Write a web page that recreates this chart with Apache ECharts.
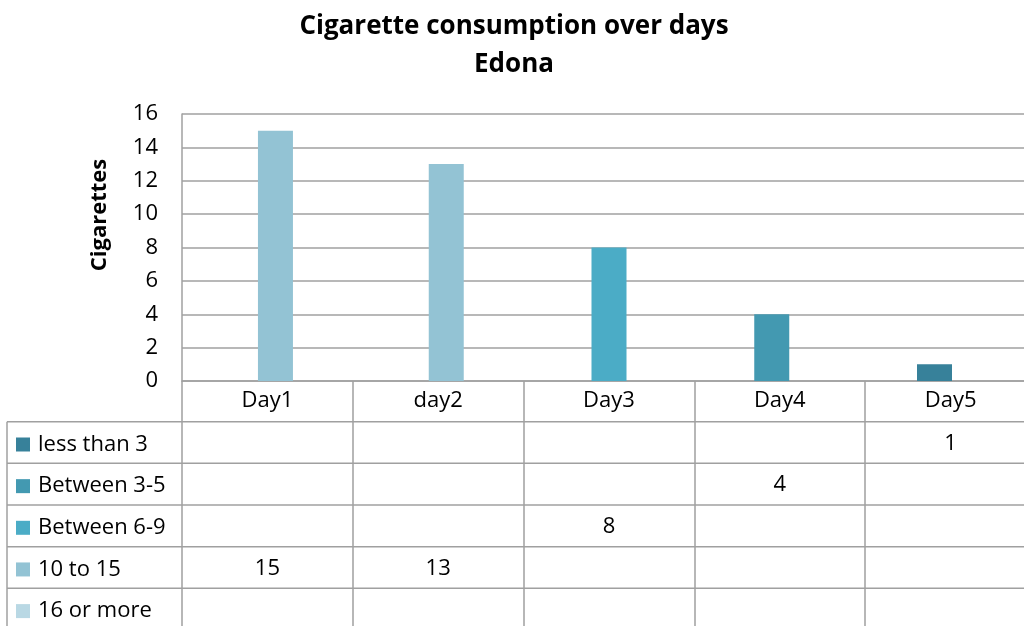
<!DOCTYPE html>
<html>
<head>
<meta charset="utf-8">
<script src="https://cdn.jsdelivr.net/npm/echarts@6/dist/echarts.min.js"></script>
<style>
  html, body { margin: 0; padding: 0; background: #fff; overflow: hidden; width: 1024px; height: 626px; }
  /* the table's last column runs past the right edge of the page */
  #chart { width: 1036px; height: 626px; }
</style>
</head>
<body>
<div id="chart"></div>
<script>
// Days on the category axis
const days = ['Day1', 'day2', 'Day3', 'Day4', 'Day5'];

// Cigarettes per day, grouped by consumption band (null = no value that day)
const lessThan3   = [null, null, null, null, 1];
const between3to5 = [null, null, null, 4, null];
const between6to9 = [null, null, 8, null, null];
const tenTo15     = [15, 13, null, null, null];
const sixteenPlus = [null, null, null, null, null];

const seriesNames  = ['less than 3', 'Between 3-5', 'Between 6-9', '10 to 15', '16 or more'];
const seriesValues = [lessThan3, between3to5, between6to9, tenTo15, sixteenPlus];
const seriesColors = ['#37819a', '#4399b1', '#4bacc6', '#93c3d4', '#b9d8e4'];

// Value axis ticks
const yMin = 0, yMax = 16, yStep = 2;

const FONT = 'Open Sans';
const LINE = '#a0a0a0';
const HEADER_H = 40.7;   // height of the day-label row under the axis
const ROW_H = 41.65;     // height of each data-table row

const chart = echarts.init(document.getElementById('chart'));

// cells of the data table: [dayIndex, rowIndex, value]
const tableCells = [];
seriesValues.forEach((vals, r) => {
  vals.forEach((v, c) => { if (v != null) tableCells.push([c, r, v]); });
});
// horizontal rule indices of the data table
const ruleRows = [];
for (let i = 0; i <= seriesNames.length; i++) ruleRows.push(i);

const barSeries = seriesNames.map((name, i) => ({
  name: name,
  type: 'bar',
  data: seriesValues[i],
  barWidth: 35,
  barGap: '-77%',
  itemStyle: { color: seriesColors[i] },
  z: 3
}));

chart.setOption({
  animation: false,
  textStyle: { fontFamily: FONT },
  title: {
    text: 'Cigarette consumption over days\nEdona',
    left: 509,
    top: 3,
    textAlign: 'center',
    textStyle: { fontFamily: FONT, fontWeight: 'bold', fontSize: 26, lineHeight: 38, color: '#000' }
  },
  legend: {
    type: 'plain',
    orient: 'vertical',
    left: 11,
    top: 427.5,
    height: 300,
    icon: 'rect',
    itemWidth: 14,
    itemHeight: 14,
    itemGap: 17.65,
    data: seriesNames,
    selectedMode: false,
    textStyle: { fontFamily: FONT, fontSize: 22, color: '#000', lineHeight: 24, padding: [0, 0, 0, 3] }
  },
  grid: { left: 182, right: 0, top: 114, bottom: 245, containLabel: false },
  xAxis: {
    type: 'category',
    data: days,
    boundaryGap: true,
    axisLine: { show: true, lineStyle: { color: LINE, width: 1.5 } },
    axisTick: { show: true, length: 260, lineStyle: { color: LINE, width: 1.5 } },
    axisLabel: { fontFamily: FONT, fontSize: 22, color: '#000', margin: 8, lineHeight: 24 },
    splitLine: { show: false }
  },
  yAxis: {
    type: 'value',
    min: yMin,
    max: yMax,
    interval: yStep,
    axisLine: { show: true, lineStyle: { color: LINE, width: 1.5 } },
    axisTick: { show: false },
    axisLabel: { fontFamily: FONT, fontSize: 22, color: '#000', margin: 24 },
    splitLine: { show: true, lineStyle: { color: LINE, width: 1.5 } }
  },
  graphic: [{
    type: 'text',
    x: 100,
    y: 215,
    rotation: Math.PI / 2,
    style: {
      text: 'Cigarettes',
      fontFamily: FONT,
      fontWeight: 'bold',
      fontSize: 22,
      fill: '#000',
      align: 'center',
      verticalAlign: 'middle'
    }
  }],
  series: barSeries.concat([
    {
      // horizontal rules and left border of the data table
      type: 'custom',
      name: 'tableRules',
      data: ruleRows,
      clip: false,
      silent: true,
      z: 1,
      renderItem: function (params, api) {
        const zeroY = api.coord([0, 0])[1];
        const y = zeroY + HEADER_H + api.value(0) * ROW_H;
        const children = [{
          type: 'line',
          shape: { x1: 7, y1: y, x2: 1100, y2: y },
          style: { stroke: LINE, lineWidth: 1.5 }
        }];
        if (api.value(0) === 0) {
          children.push({
            type: 'line',
            shape: { x1: 7, y1: y, x2: 7, y2: 700 },
            style: { stroke: LINE, lineWidth: 1.5 }
          });
        }
        return { type: 'group', children: children };
      },
      encode: { x: 0 }
    },
    {
      // numbers shown in the data table
      type: 'custom',
      name: 'tableValues',
      data: tableCells,
      clip: false,
      silent: true,
      z: 4,
      renderItem: function (params, api) {
        const x = api.coord([api.value(0), 0])[0];
        const zeroY = api.coord([0, 0])[1];
        const y = zeroY + HEADER_H + api.value(1) * ROW_H + ROW_H / 2 + 1;
        return {
          type: 'text',
          x: x,
          y: y,
          style: {
            text: String(api.value(2)),
            fontFamily: FONT,
            fontSize: 22,
            fill: '#000',
            align: 'center',
            verticalAlign: 'middle'
          }
        };
      },
      encode: { x: 0, y: 2 }
    }
  ])
});
</script>
</body>
</html>
